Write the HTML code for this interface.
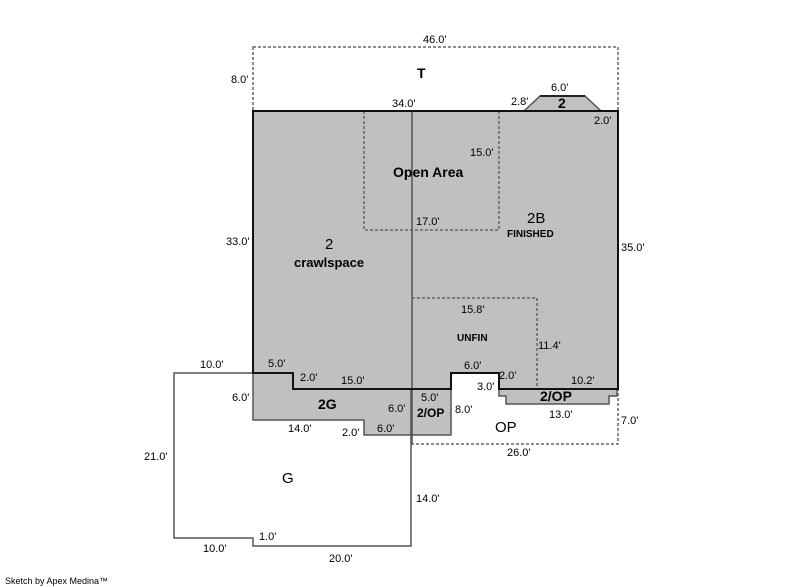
<!DOCTYPE html>
<html><head><style>
html,body{margin:0;padding:0;background:#fff;width:800px;height:587px;overflow:hidden}
text{font-family:"Liberation Sans",Arial,sans-serif;font-size:11px;fill:#000}
.b{font-weight:bold;font-size:14px}
.s{font-weight:bold;font-size:11px}
</style></head><body>
<svg width="800" height="587" xmlns="http://www.w3.org/2000/svg">
<!-- T dashed -->
<rect x="253" y="47" width="365" height="64" fill="none" stroke="#666" stroke-width="1.5" stroke-dasharray="3,2"/>
<!-- main gray -->
<polygon points="253,111 618,111 618,389 499,389 499,373 451,373 451,389 293,389 293,373 253,373" fill="#c0c0c0"/>
<!-- bump -->
<polygon points="524,111 540,96 585,96 601,111" fill="#c0c0c0" stroke="#555" stroke-width="1.5"/>
<line x1="540" y1="96" x2="585" y2="96" stroke="#222" stroke-width="2"/>
<!-- 2G + 2/OP gray -->
<polygon points="253,373 293,373 293,389 451,389 451,435 364,435 364,420 253,420" fill="#c0c0c0" stroke="#555" stroke-width="1.5"/>
<polygon points="499,389 617,389 617,396 609,396 609,404 506,404 506,396 499,396" fill="#c0c0c0" stroke="#555" stroke-width="1.5"/>
<!-- G -->
<polyline points="253,373 174,373 174,538 253,538 253,546 411,546 411,389" fill="none" stroke="#555" stroke-width="1.5"/>
<!-- OP dashed -->
<polyline points="411,444 618,444 618,389" fill="none" stroke="#666" stroke-width="1.5" stroke-dasharray="3,2"/>
<!-- dashed interior -->
<polyline points="364,111 364,230 499,230 499,111" fill="none" stroke="#666" stroke-width="1.5" stroke-dasharray="3,2"/>
<polyline points="412,298 537,298 537,389" fill="none" stroke="#666" stroke-width="1.5" stroke-dasharray="3,2"/>
<line x1="412" y1="111" x2="412" y2="444" stroke="#555" stroke-width="1.5"/>
<!-- main outline -->
<polygon points="253,111 618,111 618,389 499,389 499,373 451,373 451,389 293,389 293,373 253,373" fill="none" stroke="#111" stroke-width="2"/>
<!-- labels -->
<text x="423" y="43">46.0'</text>
<text x="231" y="83">8.0'</text>
<text x="417" y="78" class="b">T</text>
<text x="551" y="91">6.0'</text>
<text x="511" y="105">2.8'</text>
<text x="558" y="108" class="b">2</text>
<text x="594" y="124">2.0'</text>
<text x="392" y="107">34.0'</text>
<text x="470" y="156">15.0'</text>
<text x="393" y="177" class="b">Open Area</text>
<text x="416" y="225">17.0'</text>
<text x="527" y="223" class="b" style="font-size:15px;font-weight:normal">2B</text>
<text x="507" y="237" class="s" style="font-size:10px">FINISHED</text>
<text x="226" y="245">33.0'</text>
<text x="621" y="251">35.0'</text>
<text x="325" y="249" class="b" style="font-weight:normal;font-size:15px">2</text>
<text x="294" y="267" class="s" style="font-size:13px">crawlspace</text>
<text x="461" y="313">15.8'</text>
<text x="457" y="341" class="s" style="font-size:10px">UNFIN</text>
<text x="538" y="349">11.4'</text>
<text x="200" y="368">10.0'</text>
<text x="268" y="367">5.0'</text>
<text x="300" y="381">2.0'</text>
<text x="341" y="384">15.0'</text>
<text x="464" y="369">6.0'</text>
<text x="499" y="379">2.0'</text>
<text x="477" y="390">3.0'</text>
<text x="571" y="384">10.2'</text>
<text x="540" y="401" class="b">2/OP</text>
<text x="232" y="401">6.0'</text>
<text x="318" y="409" class="b">2G</text>
<text x="388" y="412">6.0'</text>
<text x="421" y="401">5.0'</text>
<text x="417" y="417" class="s" style="font-size:12px">2/OP</text>
<text x="455" y="413">8.0'</text>
<text x="549" y="418">13.0'</text>
<text x="621" y="424">7.0'</text>
<text x="288" y="432">14.0'</text>
<text x="342" y="436">2.0'</text>
<text x="377" y="432">6.0'</text>
<text x="495" y="432" class="b" style="font-weight:normal;font-size:15px">OP</text>
<text x="507" y="456">26.0'</text>
<text x="144" y="460">21.0'</text>
<text x="282" y="483" class="b" style="font-weight:normal;font-size:15px">G</text>
<text x="416" y="502">14.0'</text>
<text x="259" y="540">1.0'</text>
<text x="203" y="552">10.0'</text>
<text x="329" y="562">20.0'</text>
<text x="5" y="584" style="font-size:9px">Sketch by Apex Medina™</text>
</svg>
</body></html>
